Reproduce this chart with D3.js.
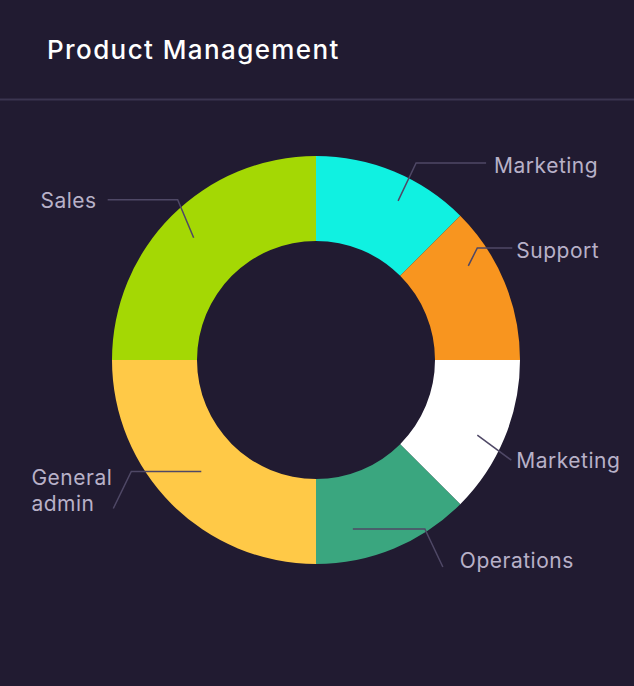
<!DOCTYPE html>
<html>
<head>
<meta charset="utf-8">
<script src="https://cdn.jsdelivr.net/npm/d3@7"></script>
<style>
    html, body { margin: 0; padding: 0; background: #211b31; }
    svg { display: block; }
</style>
</head>
<body>
<div id="chart"></div>
<script>
// chart data
var categories = ['Marketing', 'Support', 'Marketing', 'Operations', 'General admin', 'Sales'];
var shares = [12.5, 12.5, 12.5, 12.5, 25, 25];
var sliceColors = ['#10f1e1', '#f8951f', '#ffffff', '#3aa67f', '#ffc947', '#a4d804'];

var title = 'Product Management';

var fullWidth = 634;
var fullHeight = 686;
var mainFont = 'Inter, "Noto Sans", sans-serif';
var bgColor = '#211b31';
var labelColor = '#b8b1c8';
var leaderColor = '#4f4866';

// hand placed leader lines: angle nudge (deg), start radius, relative legs, text offset
var labelLayout = [
    { nudge: 4.8, r: 179, legs: [[18, -38], [70, 0]], text: [8, 2] },
    { nudge: -9.2, r: 179, legs: [[9, -18], [35, 0]], text: [4, 2] },
    { nudge: 2.5, r: 178, legs: [[34, 25]], text: [5, 0] },
    { nudge: 10.2, r: 173, legs: [[72, 0], [18, 38]], text: [17, -7] },
    { nudge: 0.8, r: 160, legs: [[-70, 0], [-18, 37]], text: [-1, -19] },
    { nudge: 0, r: 173, legs: [[-16, -38], [-70, 0]], text: [-11, 0] }
];

window.onload = function() {
    render();
};

function render() {
    var svg = d3.select('#chart').append('svg')
        .attr('width', fullWidth)
        .attr('height', fullHeight)
        .style('background', bgColor);

    makeHeadline(svg);
    makeDonut(svg, 316, 360, 204, 119);
}

function makeHeadline(svg) {
    svg.append('text')
        .attr('x', 47)
        .attr('y', 59)
        .style('font-family', mainFont)
        .style('font-size', '26px')
        .style('font-weight', 500)
        .style('letter-spacing', '1.4px')
        .style('fill', '#ffffff')
        .text(title);

    svg.append('line')
        .attr('x1', 0)
        .attr('x2', fullWidth)
        .attr('y1', 99.5)
        .attr('y2', 99.5)
        .attr('stroke', '#3b3550')
        .attr('stroke-width', 2);
}

function makeDonut(svg, cx, cy, outerR, innerR) {
    var g = svg.append('g').attr('transform', 'translate(' + cx + ',' + cy + ')');

    var pie = d3.pie().sort(null).value(function(d) { return d; });
    var arc = d3.arc().innerRadius(innerR).outerRadius(outerR);
    var slices = pie(shares);

    g.selectAll('path.slice')
        .data(slices)
        .enter().append('path')
        .attr('class', 'slice')
        .attr('d', arc)
        .attr('fill', function(d, i) { return sliceColors[i]; });

    var line = d3.line();

    slices.forEach(function(s, i) {
        var lay = labelLayout[i];
        var mid = (s.startAngle + s.endAngle) / 2 + lay.nudge * Math.PI / 180;
        var pts = [[lay.r * Math.sin(mid), -lay.r * Math.cos(mid)]];
        lay.legs.forEach(function(leg) {
            var last = pts[pts.length - 1];
            pts.push([last[0] + leg[0], last[1] + leg[1]]);
        });

        g.append('path')
            .attr('d', line(pts))
            .attr('fill', 'none')
            .attr('stroke', leaderColor)
            .attr('stroke-width', 1.5);

        var end = pts[pts.length - 1];
        var rightSide = Math.sin(mid) > 0;
        var words = categories[i].split(' ');
        var lineH = 26;
        var tx = end[0] + lay.text[0];
        var ty = end[1] + lay.text[1] - (words.length - 1) * lineH / 2;

        var label = g.append('text')
            .style('font-family', mainFont)
            .style('font-size', '21px')
            .style('letter-spacing', '0.5px')
            .style('fill', labelColor)
            .attr('dominant-baseline', 'central');

        words.forEach(function(w, k) {
            label.append('tspan')
                .attr('x', tx)
                .attr('y', ty + k * lineH)
                .text(w);
        });

        // left side labels: keep lines left aligned, block ends at tx
        if (!rightSide) {
            var widest = 0;
            label.selectAll('tspan').each(function() {
                widest = Math.max(widest, this.getComputedTextLength());
            });
            label.selectAll('tspan').attr('x', tx - widest);
        }
    });
}
</script>
</body>
</html>
